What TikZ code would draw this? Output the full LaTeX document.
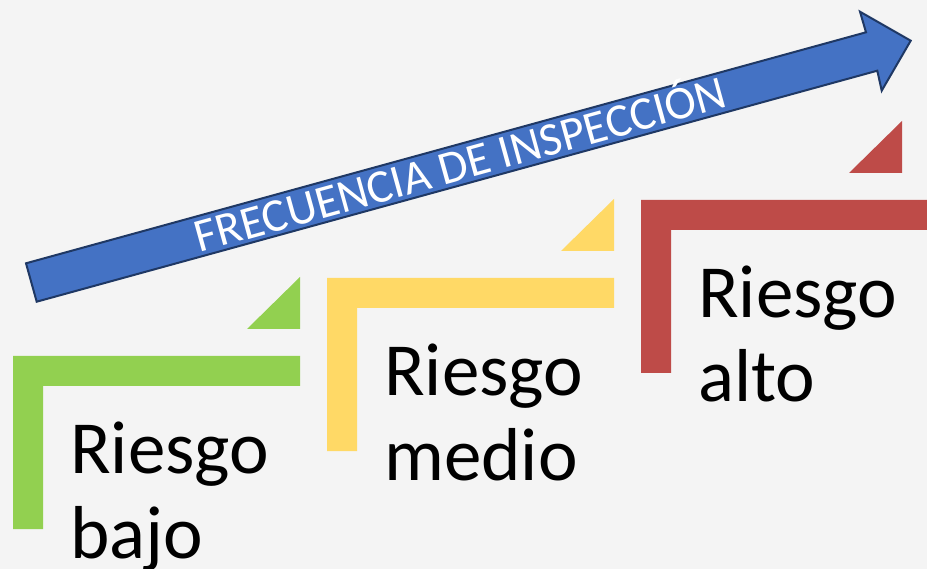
\documentclass[tikz,border=0pt]{standalone}
\usepackage{fontspec}
\setmainfont{Carlito}
\definecolor{fondo}{HTML}{F4F4F4}
\definecolor{verde}{HTML}{92D050}
\definecolor{amarillo}{HTML}{FFD966}
\definecolor{rojo}{HTML}{BE4B48}
\definecolor{azul}{HTML}{4472C4}
\definecolor{borde}{HTML}{1F3864}
\tikzset{
    nivel/.style={anchor=base west,inner sep=0pt,align=left,
        font=\fontsize{75}{85}\selectfont},
    flecha/.style={fill=azul,draw=borde,line width=2pt,line join=miter}
}
\begin{document}
\begin{tikzpicture}[x=1pt,y=-1pt]
    \useasboundingbox[fill=fondo] (0,0) rectangle (927,569);
    \coordinate (T1) at (26,263.3);
    \coordinate (T2) at (36.7,301.7);
    \coordinate (S1) at (866,32.3);
    \coordinate (S2) at (877.3,70.7);
    \coordinate (B1) at (860,11.7);
    \coordinate (B2) at (881.7,90.7);
    \coordinate (P) at (910.7,40.7);
    \draw[flecha] (T1)--(S1)--(B1)--(P)--(B2)--(S2)--(T2)--cycle;
    \node[rotate=15.45,text=white,inner sep=0pt,text height=30pt,text depth=0pt,
        font=\fontsize{47}{47}\selectfont] (frec) at (460.6,165) {FRECUENCIA DE INSPECCIÓN};
    \foreach \i/\col/\nom/\dx in {0/verde/bajo/0,1/amarillo/medio/0,2/rojo/alto/-26}{
        \begin{scope}[shift={(314*\i,-78*\i)}]
            \fill[\col] (13,356)--(300,356)--(300,386)--(43,386)--(43,529)--(13,529)--cycle;
            \fill[\col] (247+\dx,329)--(300+\dx,329)--(300+\dx,277)--cycle;
            \node[nivel] (\nom) at (70,558) {Riesgo\\\nom};
        \end{scope}
    }
\end{tikzpicture}
\end{document}
